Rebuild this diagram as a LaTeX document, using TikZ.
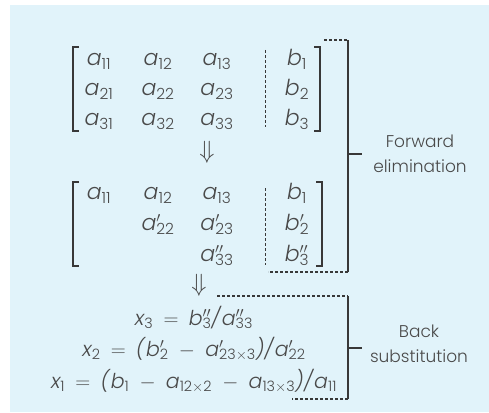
\documentclass[tikz,border=0pt]{standalone}
\usepackage{amsmath}
\usepackage{fontspec}
\setmainfont{Poppins}[UprightFont=* Light,ItalicFont=* Light Italic]
\usepackage{xcolor}
\definecolor{cPanel}{HTML}{E1F3FA}
\definecolor{cInk}{HTML}{4A4A4A}
\definecolor{cLine}{HTML}{383838}
\usetikzlibrary{positioning}
% entries: letter, subscript, optional primes
\newcommand{\ent}[2]{\ensuremath{\textit{#1}_{\text{#2}}}}
\newcommand{\entp}[3]{\ensuremath{\textit{#1}\rlap{$^{#3}$}_{\text{#2}}}}
\newcommand{\pr}{\prime}
\newcommand{\ppr}{\prime\prime}
\newcommand{\op}[1]{\hspace{0.5em}$#1$\hspace{0.5em}}
\tikzset{
  entry/.style={text=cInk,font=\fontsize{22}{26}\selectfont,inner sep=0pt,
    text height=11pt,text depth=4pt},
  eqn/.style={entry,font=\fontsize{20.5}{24}\selectfont},
  step-arrow/.style={entry,font=\fontsize{30}{30}\selectfont},
  side-label/.style={text=cInk,font=\fontsize{17}{25}\selectfont,align=center,inner sep=0pt},
  rule/.style={draw=cLine,line width=1.1pt},
  rule-dash/.style={rule,dash pattern=on 3pt off 2pt},
}

\begin{document}
\begin{tikzpicture}[x=1pt,y=-1pt]
  \useasboundingbox (0,0) rectangle (489,412);
  \fill[cPanel] (10,5) rectangle (489,412);

  % first matrix
  \foreach \r/\y in {1/62,2/92,3/122}{
    \foreach \c/\x in {1/99,2/158,3/217}
      \node[entry] (p\r\c) at (\x,\y) {\ent{a}{\r\c}};
    \node[entry] (pb\r) at (297,\y) {\ent{b}{\r}};
  }
  \draw[rule] (79,47) -- (73,47) -- (73,131) -- (79,131);
  \draw[rule] (314,47) -- (320,47) -- (320,131) -- (314,131);
  \draw[rule-dash,line width=0.9pt] (265,50) -- (265,127);

  \node[step-arrow] (down1) at (207,155) {$\Downarrow$};

  % second matrix
  \node[entry] (q11) at (99,196) {\ent{a}{11}};
  \node[entry] (q12) at (158,196) {\ent{a}{12}};
  \node[entry] (q13) at (217,196) {\ent{a}{13}};
  \node[entry] (q22) at (158,227) {\entp{a}{22}{\pr}};
  \node[entry] (q23) at (217,227) {\entp{a}{23}{\pr}};
  \node[entry] (q33) at (217,258) {\entp{a}{33}{\ppr}};
  \node[entry] (qb1) at (297,196) {\ent{b}{1}};
  \node[entry] (qb2) at (297,227) {\entp{b}{2}{\pr}};
  \node[entry] (qb3) at (297,258) {\entp{b}{3}{\ppr}};
  \draw[rule] (79,182) -- (73,182) -- (73,266) -- (79,266);
  \draw[rule] (316,182) -- (322,182) -- (322,266) -- (316,266);
  \draw[rule-dash,line width=0.9pt] (265,188) -- (265,265);

  \node[step-arrow] (down2) at (199,288) {$\Downarrow$};

  % back substitution
  \node[eqn] (x3) at (194,322)
    {\ent{x}{3}\op{=}\entp{b}{3}{\ppr}\textit{/}\entp{a}{33}{\ppr}};
  \node[eqn] (x2) at (194,353)
    {\ent{x}{2}\op{=}\textit{(}\entp{b}{2}{\pr}\op{-}\entp{a}{23$\times$3}{\pr}\textit{)/}\entp{a}{22}{\pr}};
  \node[eqn] (x1) at (194,385)
    {\ent{x}{1}\op{=}\textit{(}\ent{b}{1}\op{-}\ent{a}{12$\times$2}\op{-}\ent{a}{13$\times$3}\textit{)/}\ent{a}{11}};

  % side brackets
  \coordinate (fwd) at (348,154);
  \coordinate (bck) at (348,348);
  \draw[rule-dash] (324,40) -- (348,40);
  \draw[rule] (348,40) -- (348,272);
  \draw[rule-dash] (348,272) -- (268,272);
  \draw[rule] (fwd) -- ++(14,0);
  \node[side-label] (fwd-lbl) at (420,154) {Forward\\elimination};

  \draw[rule-dash] (217,296) -- (348,296);
  \draw[rule] (348,296) -- (348,399);
  \draw[rule-dash] (348,399) -- (292,399);
  \draw[rule] (bck) -- ++(14,0);
  \node[side-label] (bck-lbl) at (419,344) {Back\\substitution};
\end{tikzpicture}
\end{document}
